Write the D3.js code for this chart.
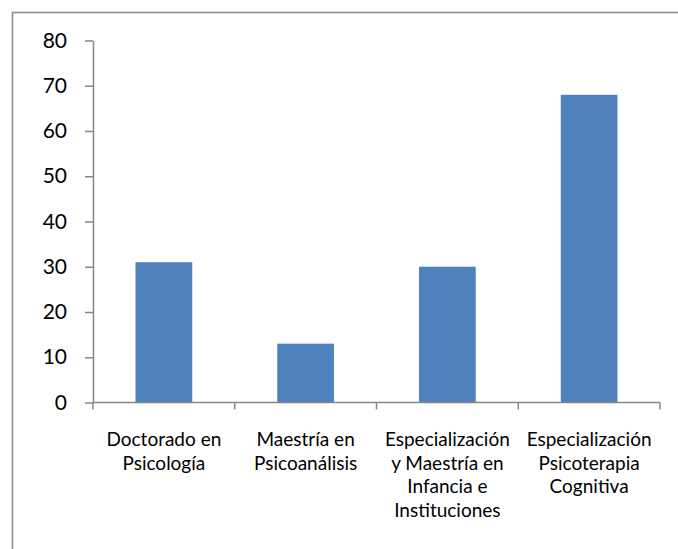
<!DOCTYPE html>
<html>
<head>
<meta charset="utf-8">
<script src="https://cdn.jsdelivr.net/npm/d3@7"></script>
<style>
  html, body { margin: 0; padding: 0; background: #fff; }
  svg { display: block; }
</style>
</head>
<body>
<svg id="chart" width="678" height="549"></svg>
<script>
// Programas de posgrado y su cantidad
const categories = [
  ["Doctorado en", "Psicología"],
  ["Maestría en", "Psicoanálisis"],
  ["Especialización", "y Maestría en", "Infancia e", "Instituciones"],
  ["Especialización", "Psicoterapia", "Cognitiva"]
];
const values = [31, 13, 30, 68];
const yTicks = [0, 10, 20, 30, 40, 50, 60, 70, 80];

const svg = d3.select("#chart");
const font = "Lato, 'Open Sans', sans-serif";
const axisColor = "#868686";

// chart area frame (only left and top edges fall inside the view)
svg.append("rect")
  .attr("x", 12.5).attr("y", 12.5)
  .attr("width", 700).attr("height", 600)
  .attr("fill", "none")
  .attr("stroke", "#8c8c8c")
  .attr("stroke-width", 1.6);

const x0 = 93, x1 = 660, yTop = 40.5, yBottom = 402.5;

const x = d3.scaleBand()
  .domain(d3.range(categories.length))
  .range([x0, x1])
  .paddingInner(0.6)
  .paddingOuter(0.3);

const y = d3.scaleLinear().domain([0, 80]).range([yBottom, yTop]);

// bars
svg.append("g").selectAll("rect")
  .data(values)
  .join("rect")
  .attr("x", (d, i) => x(i))
  .attr("y", d => y(d))
  .attr("width", x.bandwidth())
  .attr("height", d => y(0) - y(d))
  .attr("fill", "#4f81bd");

// y axis
const yAxis = svg.append("g")
  .attr("transform", `translate(${x0},0)`)
  .call(d3.axisLeft(y).tickValues(yTicks).tickSize(8).tickPadding(18).tickSizeOuter(0));
yAxis.select(".domain").attr("stroke", axisColor).attr("stroke-width", 1.5);
yAxis.selectAll(".tick line").attr("stroke", axisColor).attr("stroke-width", 1.5);
yAxis.selectAll(".tick text")
  .attr("fill", "#000")
  .style("font-family", font)
  .style("font-size", "21px");

// x axis with category boundary ticks
const bounds = d3.range(categories.length + 1).map(i => x0 + i * (x1 - x0) / categories.length);
const xAxis = svg.append("g");
xAxis.append("line")
  .attr("x1", x0).attr("x2", x1)
  .attr("y1", y(0)).attr("y2", y(0))
  .attr("stroke", axisColor).attr("stroke-width", 1.5);
xAxis.selectAll("line.tick")
  .data(bounds)
  .join("line")
  .attr("class", "tick")
  .attr("x1", d => d).attr("x2", d => d)
  .attr("y1", y(0)).attr("y2", y(0) + 7)
  .attr("stroke", axisColor).attr("stroke-width", 1.5);

// category labels
const labels = svg.append("g").selectAll("text")
  .data(categories)
  .join("text")
  .attr("x", (d, i) => x(i) + x.bandwidth() / 2)
  .attr("y", 446)
  .attr("text-anchor", "middle")
  .attr("fill", "#000")
  .style("font-family", font)
  .style("font-size", "19px");
labels.selectAll("tspan")
  .data(d => d)
  .join("tspan")
  .attr("x", function () { return this.parentNode.getAttribute("x"); })
  .attr("dy", (d, i) => i === 0 ? 0 : 23.5)
  .text(d => d);
</script>
</body>
</html>
